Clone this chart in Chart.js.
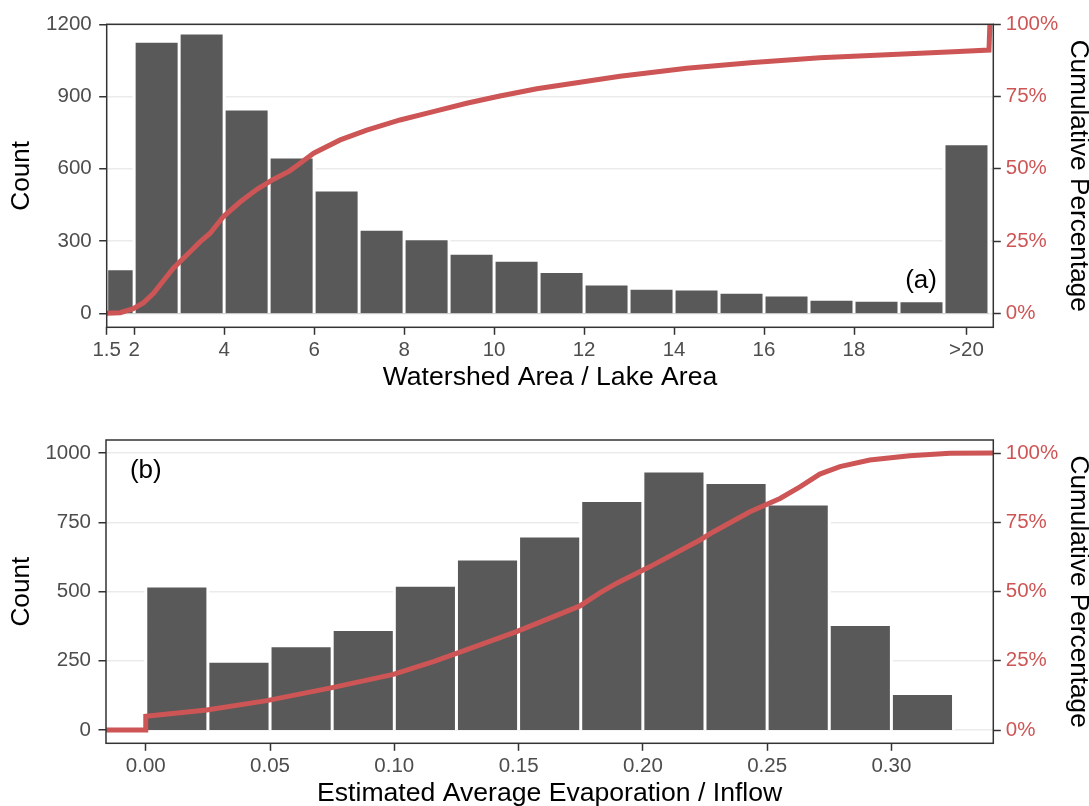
<!DOCTYPE html>
<html>
<head>
<meta charset="utf-8">
<script src="https://cdn.jsdelivr.net/npm/chart.js"></script>
<style>
  html, body { margin: 0; padding: 0; background: #fff; overflow: hidden; }
  .box { position: absolute; left: 0; width: 1089px; }
  #boxA { top: 0; height: 400px; }
  #boxB { top: 400px; height: 430px; }
</style>
</head>
<body>
<div class="box" id="boxA"><canvas id="chartA"></canvas></div>
<div class="box" id="boxB"><canvas id="chartB"></canvas></div>
<script>
// (a) watershed area / lake area
var ratioEdges = [1.39, 2, 3, 4, 5, 6, 7, 8, 9, 10, 11, 12, 13, 14, 15, 16, 17, 18, 19, 20, 21];
var ratioCounts = [185, 1130, 1164, 848, 649, 512, 349, 310, 249, 220, 174, 122, 104, 101, 88, 76, 58, 54, 52, 704];
var ratioCumX = [1.39, 1.69, 1.98, 2.21, 2.43, 2.65, 2.87, 3.17, 3.47, 3.69, 3.98, 4.36, 4.73, 5.10, 5.45, 5.69, 5.99, 6.58, 7.17, 7.91, 8.65, 9.39, 10.13, 10.95, 11.69, 12.8, 14.28, 15.76, 17.24, 18.73, 20.21, 21.0, 21.02];
var ratioCumPct = [0, 0.2, 1.6, 3.7, 6.9, 11.3, 15.6, 20.2, 24.8, 27.7, 33.4, 38.6, 42.9, 46.4, 49.2, 51.9, 55.4, 60.0, 63.4, 66.9, 69.8, 72.7, 75.2, 77.7, 79.4, 82.0, 84.8, 86.8, 88.4, 89.5, 90.5, 91.1, 100];
var ratioTicks = [1.39, 2, 4, 6, 8, 10, 12, 14, 16, 18, 20.5];
var ratioTickLabels = ['1.5', '2', '4', '6', '8', '10', '12', '14', '16', '18', '>20'];
var countTicksA = [0, 300, 600, 900, 1200];

// (b) evaporation / inflow
var evapEdges = [0, 0.025, 0.05, 0.075, 0.1, 0.125, 0.15, 0.175, 0.2, 0.225, 0.25, 0.275, 0.3, 0.325];
var evapCounts = [520, 248, 304, 363, 523, 617, 700, 829, 935, 894, 816, 381, 132];
var evapCumX = [-0.016, 0, 0, 0.0245, 0.0487, 0.0755, 0.0996, 0.1157, 0.125, 0.1492, 0.1747, 0.1827, 0.1895, 0.2029, 0.223, 0.2283, 0.2431, 0.2552, 0.2632, 0.2712, 0.2793, 0.2913, 0.3074, 0.3235, 0.341];
var evapCumPct = [0, 0, 5.0, 7.2, 10.6, 15.4, 20.1, 24.7, 27.7, 35.5, 44.8, 49.5, 53.0, 59.0, 68.6, 71.5, 78.8, 83.6, 87.8, 92.4, 95.1, 97.5, 99.0, 99.9, 100];
var evapTicks = [0, 0.05, 0.1, 0.15, 0.2, 0.25, 0.3];
var evapTickLabels = ['0.00', '0.05', '0.10', '0.15', '0.20', '0.25', '0.30'];
var countTicksB = [0, 250, 500, 750, 1000];

var pctTicks = [0, 25, 50, 75, 100];

var RED = '#CD5555';
var BAR = '#595959';
var FONT = '"Liberation Sans", Arial, Helvetica, sans-serif';
Chart.defaults.font.family = FONT;

// bars as closed steps so each bin keeps its own width
function histPoints(edges, counts) {
  var pts = [];
  for (var i = 0; i < counts.length; i++) {
    pts.push({x: edges[i], y: 0}, {x: edges[i], y: counts[i]},
             {x: edges[i + 1], y: counts[i]}, {x: edges[i + 1], y: 0});
  }
  return pts;
}

function linePoints(xs, ys) {
  return xs.map(function (x, i) { return {x: x, y: ys[i]}; });
}

var framePlugin = {
  id: 'frame',
  afterDatasetsDraw: function (chart, args, opts) {
    var a = chart.chartArea, ctx = chart.ctx;
    ctx.save();
    ctx.font = '26px ' + FONT;
    ctx.fillStyle = '#000';
    ctx.textAlign = 'center';
    ctx.textBaseline = 'middle';
    ctx.fillText(opts.text, chart.scales.x.getPixelForValue(opts.x), chart.scales.y.getPixelForValue(opts.y));
    ctx.strokeStyle = '#333333';
    ctx.lineWidth = 1.5;
    ctx.strokeRect(a.left, a.top, a.right - a.left, a.bottom - a.top);
    ctx.restore();
  }
};

function makeChart(id, o) {
  return new Chart(document.getElementById(id), {
    type: 'line',
    data: {
      datasets: [{
        label: 'Cumulative Percentage',
        data: linePoints(o.cumX, o.cumPct),
        yAxisID: 'y2',
        borderColor: RED,
        borderWidth: 5,
        pointRadius: 0,
        fill: false,
        order: 0
      }, {
        label: 'Count',
        data: histPoints(o.edges, o.counts),
        yAxisID: 'y',
        borderColor: '#ffffff',
        borderWidth: 3,
        backgroundColor: BAR,
        fill: 'origin',
        pointRadius: 0,
        order: 1
      }]
    },
    plugins: [framePlugin],
    options: {
      responsive: true,
      maintainAspectRatio: false,
      animation: false,
      events: [],
      layout: { padding: { top: o.padTop, left: 0, right: 0, bottom: 0 } },
      plugins: {
        legend: { display: false },
        tooltip: { enabled: false },
        frame: { text: o.tag, x: o.tagX, y: o.tagY }
      },
      scales: {
        x: {
          type: 'linear',
          min: o.xMin,
          max: o.xMax,
          afterBuildTicks: function (s) { s.ticks = o.xTicks.map(function (v) { return {value: v}; }); },
          afterFit: function (s) { s.height = o.xHeight; },
          border: { display: false },
          grid: { drawOnChartArea: false, drawTicks: true, tickLength: 7.5, tickColor: '#333333', tickWidth: 1.5 },
          ticks: {
            autoSkip: false, maxRotation: 0, padding: 3,
            color: '#4D4D4D', font: { size: 20.5 },
            callback: function (v, i) { return o.xLabels[i]; }
          },
          title: {
            display: true, text: o.xTitle, color: '#000',
            font: { size: 26.6 }, padding: { top: 0, bottom: o.xTitlePad }
          }
        },
        y: {
          position: 'left',
          min: o.yMin,
          max: o.yMax,
          afterBuildTicks: function (s) { s.ticks = o.yTicks.map(function (v) { return {value: v}; }); },
          afterFit: function (s) { s.width = o.left; },
          border: { display: false },
          grid: { color: '#EBEBEB', lineWidth: 1.5, tickLength: 7.5, tickColor: '#333333', tickWidth: 1.5 },
          ticks: {
            padding: 7.5, color: '#4D4D4D', font: { size: 20.5 },
            callback: function (v) { return String(v); }
          },
          title: {
            display: true, text: 'Count', color: '#000',
            font: { size: 26.2 }, padding: { top: 6.5, bottom: 0 }
          }
        },
        y2: {
          position: 'right',
          min: o.yMin / o.yTicks[o.yTicks.length - 1] * 100,
          max: o.yMax / o.yTicks[o.yTicks.length - 1] * 100,
          afterBuildTicks: function (s) { s.ticks = pctTicks.map(function (v) { return {value: v}; }); },
          afterFit: function (s) { s.width = 1089 - 993.3; },
          border: { display: false },
          grid: { drawOnChartArea: false, tickLength: 7.5, tickColor: '#333333', tickWidth: 1.5 },
          ticks: {
            padding: 5, color: RED, font: { size: 20.5 },
            callback: function (v) { return v + '%'; }
          },
          title: {
            display: true, text: 'Cumulative Percentage', color: '#000',
            font: { size: 26.2, lineHeight: 1 }, padding: { top: -2, bottom: 0 }
          }
        }
      }
    }
  });
}

makeChart('chartA', {
  edges: ratioEdges, counts: ratioCounts, cumX: ratioCumX, cumPct: ratioCumPct,
  xMin: 1.39, xMax: 21.096, xTicks: ratioTicks, xLabels: ratioTickLabels,
  yMin: -58, yMax: 1200, yTicks: countTicksA,
  xTitle: 'Watershed Area / Lake Area',
  padTop: 24.3, xHeight: 72.7, xTitlePad: 6.7, left: 106.7,
  tag: '(a)', tagX: 19.49, tagY: 134
});

makeChart('chartB', {
  edges: evapEdges, counts: evapCounts, cumX: evapCumX, cumPct: evapCumPct,
  xMin: -0.016, xMax: 0.341, xTicks: evapTicks, xLabels: evapTickLabels,
  yMin: -48, yMax: 1047, yTicks: countTicksB,
  xTitle: 'Estimated Average Evaporation / Inflow',
  padTop: 40, xHeight: 86.7, xTitlePad: 20.7, left: 106,
  tag: '(b)', tagX: 0, tagY: 935
});
</script>
</body>
</html>
